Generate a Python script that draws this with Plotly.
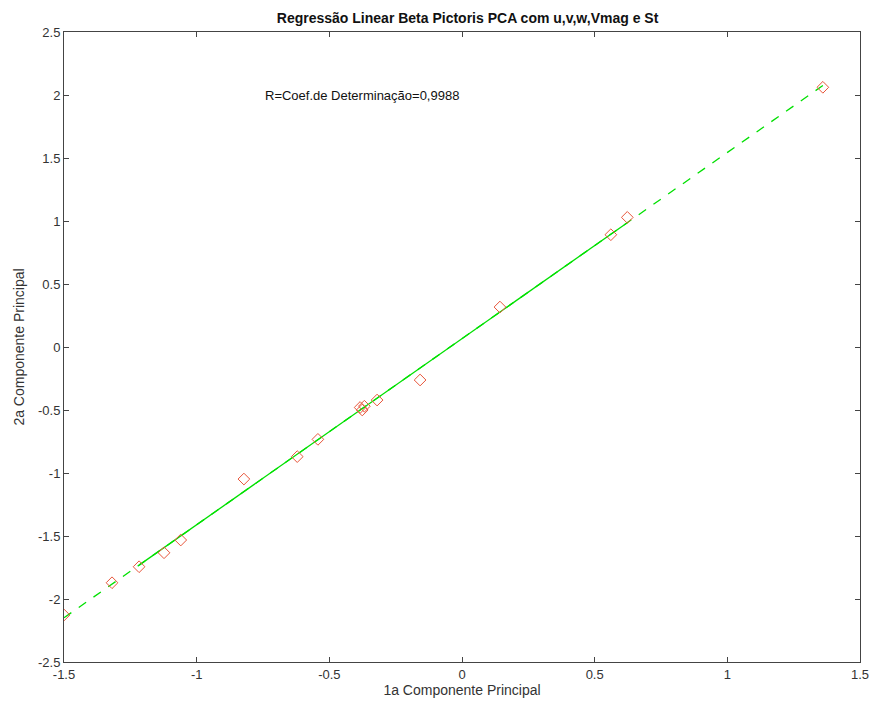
import numpy as np
import plotly.graph_objects as go

# First and second principal components (Beta Pictoris, PCA on u,v,w,Vmag,St)
pc1 = [-1.500, -1.319, -1.217, -1.123, -1.060, -0.822, -0.621, -0.543,
       -0.384, -0.376, -0.368, -0.320, -0.158, 0.143, 0.561, 0.623, 1.360]
pc2 = [-2.127, -1.871, -1.744, -1.633, -1.532, -1.048, -0.870, -0.733,
       -0.480, -0.500, -0.470, -0.421, -0.262, 0.317, 0.891, 1.029, 2.061]
r2_text = "R=Coef.de Determinação=0,9988"

# Least-squares line through the points
slope, intercept = np.polyfit(pc1, pc2, 1)
fit = [slope * v + intercept for v in pc1]

FONT = "Liberation Sans, Arial, sans-serif"
GREEN = "#00e000"
RED = "#e8553a"

fig = go.Figure()
# dashed regression line over the full range
fig.add_trace(go.Scatter(x=pc1, y=fit, mode="lines",
                         line=dict(color=GREEN, width=1.3, dash="dash"),
                         hoverinfo="skip", showlegend=False))
# dense section where the fitted segments overlap and read as solid
fig.add_trace(go.Scatter(x=pc1[2:16], y=fit[2:16], mode="lines",
                         line=dict(color=GREEN, width=1.3),
                         hoverinfo="skip", showlegend=False))
fig.add_trace(go.Scatter(x=pc1, y=pc2, mode="markers",
                         marker=dict(symbol="diamond-open", size=9,
                                     color=RED, line=dict(width=1)),
                         showlegend=False))

fig.add_annotation(x=-0.75, y=2.0, xref="x", yref="y", text=r2_text,
                   showarrow=False, xanchor="left", yanchor="middle",
                   font=dict(family=FONT, size=13, color="#111111"))

axis_common = dict(showgrid=False, zeroline=False, showline=True, mirror="ticks",
                   linecolor="#444444", linewidth=1, ticks="inside", ticklen=5,
                   tickcolor="#444444", automargin=False,
                   tickfont=dict(family=FONT, size=13, color="#333333"))

fig.update_layout(
    width=874, height=704, autosize=False,
    margin=dict(l=64, r=14, t=32, b=42, autoexpand=False),
    paper_bgcolor="white", plot_bgcolor="white",
    title=dict(text="<b>Regressão Linear Beta Pictoris PCA com u,v,w,Vmag e St</b>",
               x=0.535, xanchor="center", y=0.975, yanchor="middle",
               font=dict(family=FONT, size=14, color="#111111")),
    xaxis=dict(range=[-1.5, 1.5], tickvals=[-1.5, -1, -0.5, 0, 0.5, 1, 1.5],
               ticktext=["-1.5", "-1", "-0.5", "0", "0.5", "1", "1.5"],
               title=dict(text="1a Componente Principal", standoff=2,
                          font=dict(family=FONT, size=14, color="#333333")),
               **axis_common),
    yaxis=dict(range=[-2.5, 2.5],
               tickvals=[-2.5, -2, -1.5, -1, -0.5, 0, 0.5, 1, 1.5, 2, 2.5],
               ticktext=["-2.5", "-2", "-1.5", "-1", "-0.5", "0", "0.5", "1", "1.5", "2", "2.5"],
               title=dict(text="2a Componente Principal", standoff=10,
                          font=dict(family=FONT, size=14, color="#333333")),
               **axis_common),
)

fig.write_html("out.html")
